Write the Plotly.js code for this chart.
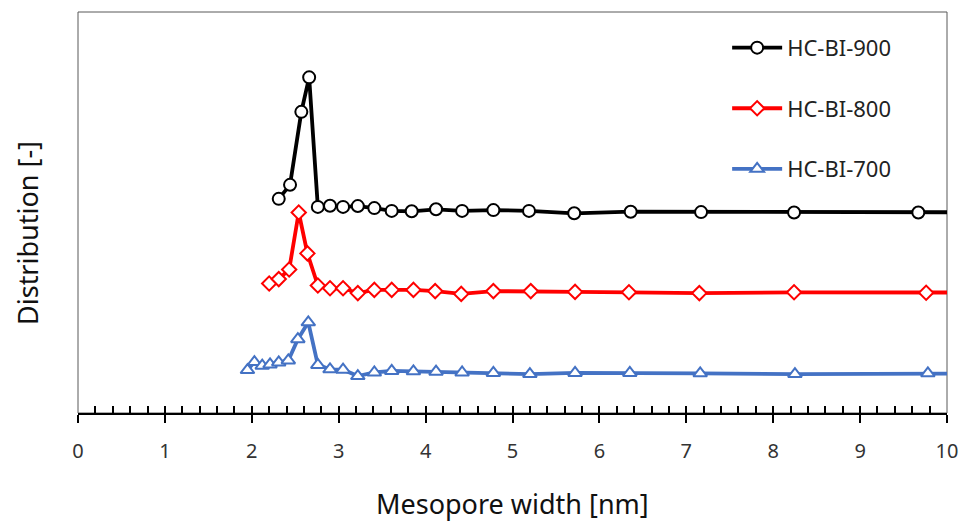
<!DOCTYPE html>
<html>
<head>
<meta charset="utf-8">
<script src="https://cdn.plot.ly/plotly-3.0.1.min.js"></script>
<style>html,body{margin:0;padding:0;background:#fff}#chart{width:960px;height:524px}</style>
</head>
<body>
<div id="chart"></div>
<script>
// Mesopore width [nm]
const x900 = [2.31, 2.44, 2.57, 2.66, 2.76, 2.90, 3.05, 3.22, 3.41, 3.61, 3.84, 4.12, 4.42, 4.78, 5.19, 5.71, 6.36, 7.17, 8.24, 9.67, 11.5];
const y900 = [53.4, 56.9, 75.1, 83.7, 51.4, 51.7, 51.4, 51.6, 51.1, 50.4, 50.3, 50.8, 50.4, 50.6, 50.4, 49.8, 50.2, 50.1, 50.0, 50.0, 50.0];

const x800 = [2.20, 2.31, 2.43, 2.54, 2.64, 2.76, 2.90, 3.05, 3.22, 3.41, 3.61, 3.86, 4.11, 4.41, 4.78, 5.21, 5.72, 6.34, 7.15, 8.24, 9.76, 11.5];
const y800 = [32.3, 33.4, 35.8, 50.0, 39.8, 31.8, 31.1, 31.1, 29.9, 30.7, 30.7, 30.7, 30.4, 29.7, 30.4, 30.4, 30.2, 30.1, 29.9, 30.1, 30.0, 30.0];

const x700 = [1.95, 2.03, 2.12, 2.21, 2.31, 2.42, 2.53, 2.65, 2.76, 2.90, 3.05, 3.22, 3.41, 3.61, 3.86, 4.12, 4.42, 4.78, 5.20, 5.72, 6.35, 7.16, 8.25, 9.78, 11.5];
const y700 = [10.7, 12.7, 11.8, 12.1, 12.6, 13.1, 18.4, 22.6, 12.0, 10.9, 10.8, 9.2, 10.1, 10.5, 10.4, 10.3, 10.1, 10.0, 9.7, 10.0, 10.0, 9.9, 9.7, 9.9, 9.9];

const seriesNames = ["HC-BI-900", "HC-BI-800", "HC-BI-700"];
const xTickVals = [0,1,2,3,4,5,6,7,8,9,10];
const xTitle = "Mesopore width [nm]";
const yTitle = "Distribution [-]";

const traces = [
  {x: x900, y: y900, name: seriesNames[0], legendgroup: "a", type: "scatter", mode: "lines+markers",
   line: {color: "#000000", width: 3.8},
   marker: {symbol: "circle", size: 12, color: "#ffffff", line: {color: "#000000", width: 2}}},
  {x: x800, y: y800, name: seriesNames[1], legendgroup: "b", type: "scatter", mode: "lines+markers",
   line: {color: "#FF0000", width: 3.8},
   marker: {symbol: "diamond", size: 11, color: "#ffffff", line: {color: "#FF0000", width: 2}}},
  {x: x700, y: y700, name: seriesNames[2], legendgroup: "c", type: "scatter", mode: "lines+markers",
   line: {color: "#4472C4", width: 3.8},
   marker: {symbol: "triangle-up", size: 12, color: "#ffffff", line: {color: "#4472C4", width: 2}}}
];

const layout = {
  width: 960, height: 524,
  margin: {l: 78, r: 13, t: 12, b: 111},
  paper_bgcolor: "#ffffff", plot_bgcolor: "#ffffff",
  font: {family: "Noto Sans, Open Sans, sans-serif", color: "#333333"},
  showlegend: true,
  legend: {x: 0.747, y: 0.963, xanchor: "left", yanchor: "top", bgcolor: "rgba(0,0,0,0)",
           tracegroupgap: 29, font: {size: 22, color: "#222222"}, itemwidth: 50},
  xaxis: {
    range: [0, 10], tickvals: xTickVals, ticktext: xTickVals.map(String),
    ticks: "outside", ticklen: 8, tickwidth: 2, tickcolor: "#000000",
    showline: true, linecolor: "#000000", linewidth: 2,
    showgrid: false, zeroline: false,
    tickfont: {size: 20, color: "#333333"}, ticklabelstandoff: 11
  },
  xaxis2: {
    overlaying: "x", anchor: "y", side: "bottom", range: [0, 10],
    tick0: 0, dtick: 0.2, ticks: "inside", ticklen: 7, tickwidth: 2, tickcolor: "#000000",
    showticklabels: false, showline: false, showgrid: false, zeroline: false
  },
  yaxis: {
    range: [0, 100], showticklabels: false, ticks: "", showline: false, showgrid: false, zeroline: false
  },
  annotations: [
    {text: xTitle, xref: "paper", yref: "paper", x: 0.5, y: -0.225, xanchor: "center", yanchor: "middle",
     showarrow: false, font: {size: 27, color: "#111111"}},
    {text: yTitle, xref: "paper", yref: "paper", x: -0.0575, y: 0.449, xanchor: "center", yanchor: "middle",
     textangle: -90, showarrow: false, font: {size: 27, color: "#111111"}}
  ],
  shapes: [
    {type: "rect", xref: "paper", yref: "paper", x0: 0, x1: 1, y0: 0, y1: 1,
     line: {color: "#595959", width: 1}, layer: "below"}
  ]
};

// invisible trace to activate the minor-tick overlay axis
traces.push({x: [0], y: [0], xaxis: "x2", yaxis: "y", mode: "markers", marker: {opacity: 0}, showlegend: false, hoverinfo: "skip"});

Plotly.newPlot("chart", traces, layout, {displayModeBar: false, staticPlot: true});
</script>
</body>
</html>
